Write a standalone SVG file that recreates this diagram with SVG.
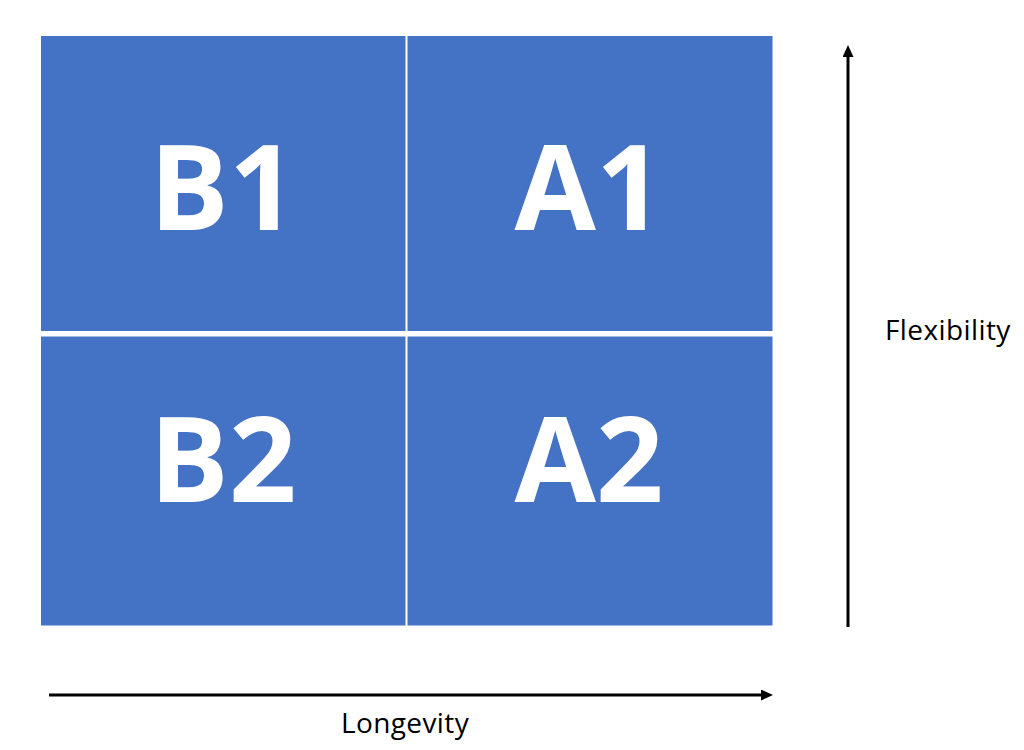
<svg xmlns="http://www.w3.org/2000/svg" width="1024" height="750" viewBox="0 0 1024 750">
<defs>
<style>
.q{fill:#4472C4;}
.big{font-family:"Open Sans","Noto Sans","Liberation Sans",sans-serif;font-weight:bold;font-size:118px;fill:#fff;text-anchor:middle;}
.ax{font-family:"Open Sans","Noto Sans","Liberation Sans",sans-serif;font-size:28px;fill:#000;letter-spacing:0.4px;}
.ln{stroke:#000;stroke-width:3;fill:none;}
</style>
<marker id="ah" markerWidth="12" markerHeight="11" refX="6" refY="5.5" orient="auto" markerUnits="userSpaceOnUse">
<path d="M0,0 L12,5.5 L0,11 z" fill="#000"/>
</marker>
</defs>
<rect width="1024" height="750" fill="#fff"/>
<g id="B1"><rect class="q" x="41" y="36" width="364.5" height="295"/><text class="big" x="223" y="230">B1</text></g>
<g id="A1"><rect class="q" x="407.5" y="36" width="365" height="295"/><text class="big" x="589" y="230">A1</text></g>
<g id="B2"><rect class="q" x="41" y="336.5" width="364.5" height="289"/><text class="big" x="223" y="502">B2</text></g>
<g id="A2"><rect class="q" x="407.5" y="336.5" width="365" height="289"/><text class="big" x="589" y="502">A2</text></g>
<g id="connectors">
<line class="ln" x1="848" y1="627" x2="848" y2="51" marker-end="url(#ah)"/>
<line class="ln" x1="49" y1="695" x2="767" y2="695" marker-end="url(#ah)"/>
</g>
<text class="ax" x="885" y="340">Flexibility</text>
<text class="ax" x="405" y="733" text-anchor="middle">Longevity</text>
</svg>
